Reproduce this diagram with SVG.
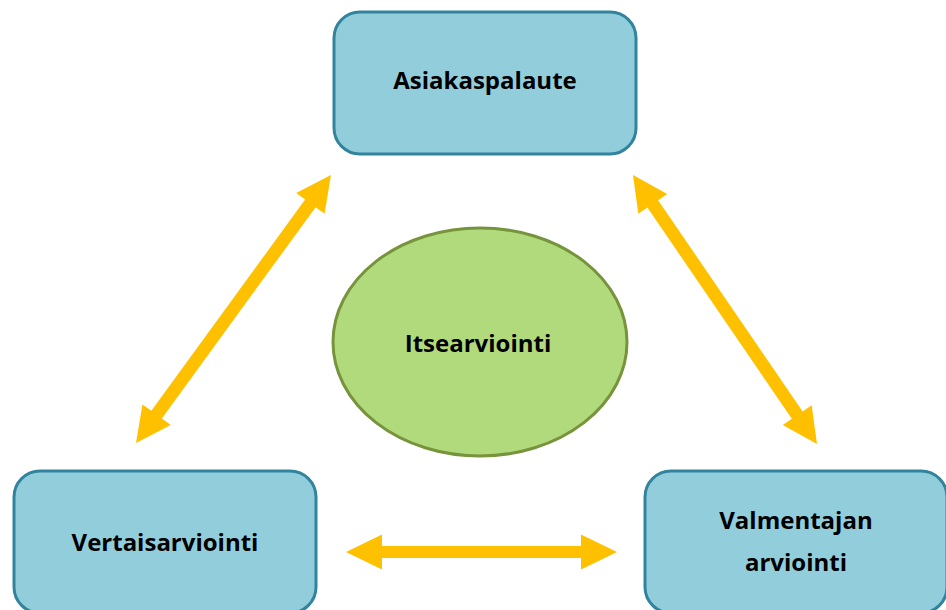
<svg xmlns="http://www.w3.org/2000/svg" width="946" height="610" viewBox="0 0 946 610">
<style>
.box{fill:#92CDDC;stroke:#31849B;stroke-width:3}
.ell{fill:#B0DA7C;stroke:#77933C;stroke-width:3}
.lbl{font-family:"Open Sans","Liberation Sans",sans-serif;font-weight:bold;font-size:24px;fill:#000;text-anchor:middle}
.arr{fill:#FFC000}
</style>
<rect width="946" height="610" fill="#fff"/>
<g id="connectors">
<polygon class="arr" transform="translate(136,443) rotate(-53.96)" points="0,0 35,-17.5 35,-6.5 296.4,-6.5 296.4,-17.5 331.4,0 296.4,17.5 296.4,6.5 35,6.5 35,17.5"/>
<polygon class="arr" transform="translate(633,175) rotate(55.63)" points="0,0 35,-17.5 35,-6.5 290.9,-6.5 290.9,-17.5 325.9,0 290.9,17.5 290.9,6.5 35,6.5 35,17.5"/>
<polygon class="arr" transform="translate(346,552)" points="0,0 36,-17.5 36,-6 235,-6 235,-17.5 271,0 235,17.5 235,6 36,6 36,17.5"/>
</g>
<g id="node-asiakaspalaute">
<rect class="box" x="334" y="12" width="302" height="142" rx="26"/>
<text class="lbl" x="485" y="89">Asiakaspalaute</text>
</g>
<g id="node-itsearviointi">
<ellipse class="ell" cx="480" cy="342" rx="147" ry="114"/>
<text class="lbl" x="478" y="352">Itsearviointi</text>
</g>
<g id="node-vertaisarviointi">
<rect class="box" x="14" y="471" width="302" height="142" rx="26"/>
<text class="lbl" x="165" y="551">Vertaisarviointi</text>
</g>
<g id="node-valmentajan">
<rect class="box" x="645" y="471" width="302" height="142" rx="26"/>
<text class="lbl" x="796" y="529">Valmentajan</text>
<text class="lbl" x="796" y="571">arviointi</text>
</g>
</svg>
